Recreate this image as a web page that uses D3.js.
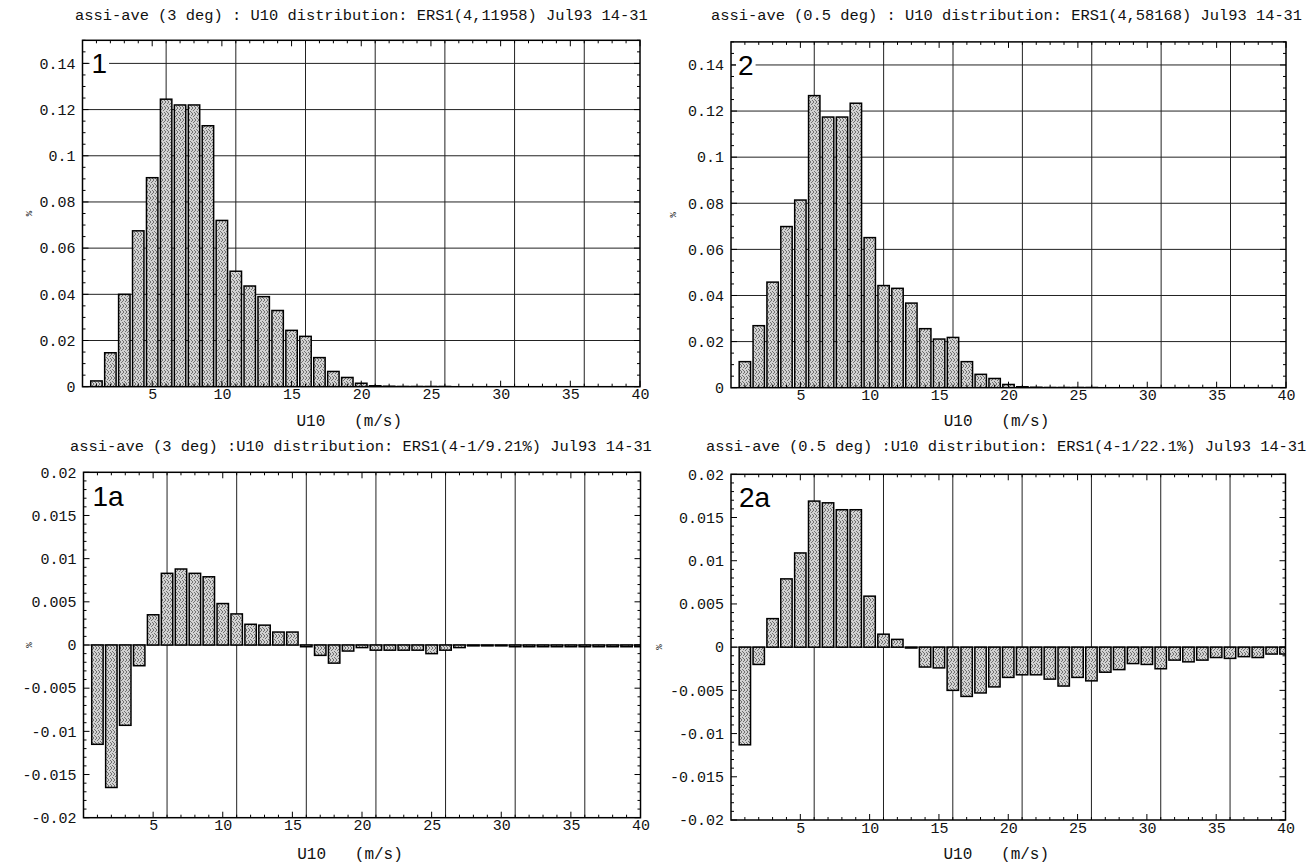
<!DOCTYPE html>
<html>
<head>
<meta charset="utf-8">
<script src="https://cdn.jsdelivr.net/npm/d3@7"></script>
<style>
  html, body { margin: 0; padding: 0; background: #fff; }
  svg { display: block; }
  .mono { font-family: "Liberation Mono", "DejaVu Sans Mono", monospace; fill: #111; }
  .plabel { font-family: "Liberation Sans", Arial, sans-serif; fill: #000; }
</style>
</head>
<body>
<svg id="chart" width="1313" height="863"></svg>
<script>
// Wind-speed bins (m/s), one bar per bin
const windBins = [1, 2, 3, 4, 5, 6, 7, 8, 9, 10, 11, 12, 13, 14, 15, 16, 17, 18, 19, 20,
                  21, 22, 23, 24, 25, 26, 27, 28, 29, 30, 31, 32, 33, 34, 35, 36, 37, 38, 39, 40];

// Panel 1: 3 deg average, U10 distribution
const dist3deg = [0.0025, 0.0147, 0.0400, 0.0675, 0.0905, 0.1245, 0.1220, 0.1220, 0.1130, 0.0720,
                  0.0500, 0.0436, 0.0390, 0.0330, 0.0244, 0.0218, 0.0126, 0.0066, 0.0040, 0.0015,
                  0.0004, 0.0002, 0.0001, 0.0001, 0.0001, 0.0001, 0, 0, 0, 0,
                  0, 0, 0, 0, 0, 0, 0, 0, 0, 0];

// Panel 2: 0.5 deg average, U10 distribution
const dist05deg = [0.0113, 0.0269, 0.0458, 0.0699, 0.0814, 0.1267, 0.1174, 0.1174, 0.1234, 0.0651,
                   0.0443, 0.0431, 0.0367, 0.0256, 0.0211, 0.0218, 0.0113, 0.0058, 0.0040, 0.0014,
                   0.0004, 0.0002, 0.0001, 0.0001, 0.0001, 0.0001, 0, 0, 0, 0,
                   0, 0, 0, 0, 0, 0, 0, 0, 0, 0];

// Panel 1a: difference, 3 deg
const diff3deg = [-0.0115, -0.0165, -0.0093, -0.0024, 0.0035, 0.0083, 0.0088, 0.0083, 0.0079, 0.0048,
                  0.0036, 0.0024, 0.0023, 0.0015, 0.0015, -0.0002, -0.0012, -0.0021, -0.0007, -0.0003,
                  -0.0006, -0.0006, -0.0006, -0.0006, -0.0010, -0.0006, -0.0003, -0.0001, -0.0001, -0.0001,
                  -0.0002, -0.0002, -0.0002, -0.0002, -0.0002, -0.0002, -0.0002, -0.0002, -0.0002, -0.0002];

// Panel 2a: difference, 0.5 deg
const diff05deg = [-0.0113, -0.0020, 0.0033, 0.0079, 0.0109, 0.0169, 0.0167, 0.0159, 0.0159, 0.0059,
                   0.0015, 0.0009, -0.0001, -0.0023, -0.0024, -0.0050, -0.0057, -0.0053, -0.0046, -0.0035,
                   -0.0032, -0.0032, -0.0037, -0.0045, -0.0035, -0.0039, -0.0029, -0.0026, -0.0019, -0.0020,
                   -0.0025, -0.0015, -0.0017, -0.0015, -0.0012, -0.0013, -0.0011, -0.0012, -0.0008, -0.0008];

// Axis tick labels
const xTickLabels = [5, 10, 15, 20, 25, 30, 35, 40];
const xGridLines = [6, 11, 16, 21, 26, 31, 36];
const yTicksDist = [0, 0.02, 0.04, 0.06, 0.08, 0.1, 0.12, 0.14];
const yTicksDiff = [0.02, 0.015, 0.01, 0.005, 0, -0.005, -0.01, -0.015, -0.02];

const titles = [
  "assi-ave (3 deg) : U10 distribution: ERS1(4,11958) Jul93 14-31",
  "assi-ave (0.5 deg) : U10 distribution: ERS1(4,58168) Jul93 14-31",
  "assi-ave (3 deg) :U10 distribution: ERS1(4-1/9.21%) Jul93 14-31",
  "assi-ave (0.5 deg) :U10 distribution: ERS1(4-1/22.1%) Jul93 14-31"
];
const panelLabels = ["1", "2", "1a", "2a"];

const svg = d3.select("#chart");
const defs = svg.append("defs");

// stippled grey fill for the bars
const pat = defs.append("pattern")
  .attr("id", "stipple").attr("width", 6).attr("height", 6)
  .attr("patternUnits", "userSpaceOnUse");
pat.append("rect").attr("width", 6).attr("height", 6).attr("fill", "#d2d2d2");
[[0, 0], [3, 0], [5, 1], [1, 2], [4, 3], [2, 4], [0, 5], [5, 4], [3, 5], [2, 1]].forEach(([px, py]) =>
  pat.append("rect").attr("x", px).attr("y", py).attr("width", 1).attr("height", 1).attr("fill", "#707070"));

const fmtY = d => String(+d.toFixed(3));

function drawPanel(cfg, idx) {
  const g = svg.append("g");
  const x = d3.scaleLinear().domain([0, 40]).range(cfg.xr);
  const y = d3.scaleLinear().domain(cfg.yDomain).range(cfg.yr);
  const [x0, x1] = cfg.xr;
  const [yb, yt] = cfg.yr;

  const clipId = "clip" + idx;
  defs.append("clipPath").attr("id", clipId)
    .append("rect").attr("x", x0).attr("y", yt).attr("width", x1 - x0).attr("height", yb - yt);

  // horizontal grid (distribution panels) or zero line (difference panels)
  if (cfg.hGrid) {
    g.append("g").selectAll("line").data(cfg.yTicks.filter(d => d > 0)).join("line")
      .attr("x1", x0).attr("x2", x1)
      .attr("y1", d => y(d)).attr("y2", d => y(d))
      .attr("stroke", "#222").attr("stroke-width", 1);
  } else {
    g.append("line").attr("x1", x0).attr("x2", x1)
      .attr("y1", y(0)).attr("y2", y(0))
      .attr("stroke", "#222").attr("stroke-width", 1);
  }
  // vertical grid
  g.append("g").selectAll("line").data(xGridLines).join("line")
    .attr("x1", d => x(d)).attr("x2", d => x(d))
    .attr("y1", yt).attr("y2", yb)
    .attr("stroke", "#222").attr("stroke-width", 1);

  // bars
  const half = 0.41;
  g.append("g").attr("clip-path", `url(#${clipId})`)
    .selectAll("rect").data(windBins.map((b, i) => ({ b, v: cfg.values[i] }))).join("rect")
    .attr("x", d => x(d.b - half))
    .attr("width", d => x(d.b + half) - x(d.b - half))
    .attr("y", d => y(Math.max(0, d.v)))
    .attr("height", d => Math.abs(y(d.v) - y(0)))
    .attr("fill", "url(#stipple)")
    .attr("stroke", "#000").attr("stroke-width", 1.5);

  // inner tick marks on all four sides
  const ticks = g.append("g").attr("stroke", "#000").attr("stroke-width", 1);
  windBins.forEach(v => {
    const len = v % 5 === 0 ? 6 : 3;
    ticks.append("line").attr("x1", x(v)).attr("x2", x(v)).attr("y1", yb).attr("y2", yb - len);
    ticks.append("line").attr("x1", x(v)).attr("x2", x(v)).attr("y1", yt).attr("y2", yt + len);
  });
  const yMinor = d3.range(Math.round(cfg.yDomain[0] / cfg.yMinorStep), Math.round(cfg.yDomain[1] / cfg.yMinorStep) + 1)
    .map(k => k * cfg.yMinorStep);
  yMinor.forEach(v => {
    const major = Math.abs(v / cfg.yMajorStep - Math.round(v / cfg.yMajorStep)) < 1e-6;
    const len = major ? 6 : 3;
    ticks.append("line").attr("x1", x0).attr("x2", x0 + len).attr("y1", y(v)).attr("y2", y(v));
    ticks.append("line").attr("x1", x1).attr("x2", x1 - len).attr("y1", y(v)).attr("y2", y(v));
  });

  // frame
  g.append("rect").attr("x", x0).attr("y", yt).attr("width", x1 - x0).attr("height", yb - yt)
    .attr("fill", "none").attr("stroke", "#000").attr("stroke-width", 1.5);

  // axes labels via d3 axes
  const ax = g.append("g").attr("transform", `translate(0,${yb})`)
    .call(d3.axisBottom(x).tickValues(xTickLabels).tickSize(0).tickPadding(2).tickFormat(d3.format("d")));
  ax.select(".domain").remove();
  ax.selectAll("text").attr("class", "mono").attr("font-size", 15).attr("fill", "#111");

  const ay = g.append("g").attr("transform", `translate(${x0},0)`)
    .call(d3.axisLeft(y).tickValues(cfg.yTicks).tickSize(0).tickPadding(7).tickFormat(fmtY));
  ay.select(".domain").remove();
  ay.selectAll("text").attr("class", "mono").attr("font-size", 15).attr("fill", "#111");

  // title
  g.append("text").attr("class", "mono").attr("x", cfg.titleX).attr("y", cfg.titleY)
    .attr("font-size", 15.4).text(titles[idx]);

  // x-axis title
  g.append("text").attr("class", "mono").attr("x", (x0 + x1) / 2 - 12).attr("y", cfg.xLabelY)
    .attr("font-size", 16).attr("text-anchor", "middle").style("white-space", "pre")
    .text("U10   (m/s)");

  // y-axis unit
  g.append("text").attr("class", "mono")
    .attr("transform", `translate(${cfg.pctX},${(yt + yb) / 2}) rotate(-90)`)
    .attr("font-size", 9).attr("text-anchor", "middle").text("%");

  // panel label with white backing
  const lbl = g.append("text").attr("class", "plabel").attr("x", x0 + cfg.lblDx).attr("y", yt + cfg.lblDy)
    .attr("font-size", 28).text(panelLabels[idx]);
  const bb = lbl.node().getBBox();
  g.insert("rect", "text.plabel").attr("x", bb.x - 2).attr("y", bb.y + 3).attr("width", bb.width + 4).attr("height", bb.height - 6)
    .attr("fill", "#fff");
}

const panels = [
  { values: dist3deg, xr: [82.5, 640], yr: [386.7, 40.3], yDomain: [0, 0.15], yTicks: yTicksDist,
    yMinorStep: 0.005, yMajorStep: 0.02, hGrid: true, titleX: 75, titleY: 20, xLabelY: 426, pctX: 32, lblDx: 9, lblDy: 33 },
  { values: dist05deg, xr: [731, 1286], yr: [387.7, 41.9], yDomain: [0, 0.15], yTicks: yTicksDist,
    yMinorStep: 0.005, yMajorStep: 0.02, hGrid: true, titleX: 711, titleY: 20, xLabelY: 426, pctX: 676, lblDx: 7, lblDy: 33 },
  { values: diff3deg, xr: [83.5, 640.5], yr: [817.7, 472.3], yDomain: [-0.02, 0.02], yTicks: yTicksDiff,
    yMinorStep: 0.001, yMajorStep: 0.005, hGrid: false, titleX: 70, titleY: 451, xLabelY: 859, pctX: 32, lblDx: 9, lblDy: 34 },
  { values: diff05deg, xr: [731, 1285.5], yr: [820, 474.3], yDomain: [-0.02, 0.02], yTicks: yTicksDiff,
    yMinorStep: 0.001, yMajorStep: 0.005, hGrid: false, titleX: 706, titleY: 451, xLabelY: 859, pctX: 662, lblDx: 8, lblDy: 33 }
];

panels.forEach((p, i) => drawPanel(p, i));
</script>
</body>
</html>
